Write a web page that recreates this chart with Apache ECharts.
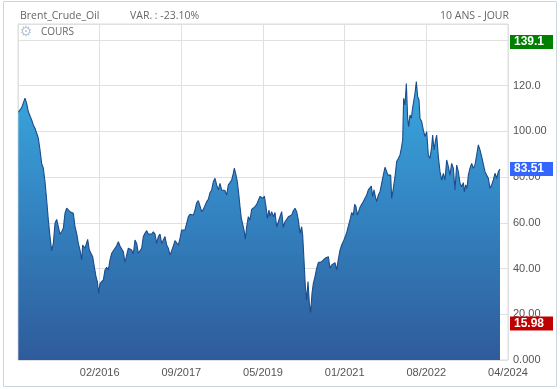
<!DOCTYPE html>
<html>
<head>
<meta charset="utf-8">
<script src="https://cdn.jsdelivr.net/npm/echarts@6/dist/echarts.min.js"></script>
<style>
html,body{margin:0;padding:0;background:#fff;}
#c{width:560px;height:389px;}
</style>
</head>
<body>
<div id="c"></div>
<script>
// time index (session steps from the start of the 10-year window) and Brent price
var t = [1,6,11,16,21,26,31,36,41,46,51,56,61,66,71,76,81,86,91,96,101,106,111,116,121,126,131,136,141,146,151,156,161,166,171,176,181,186,191,194,201,206,209,214,219,224,229,234,238,242,246,251,256,261,266,271,276,281,286,291,296,301,306,311,316,321,326,331,336,341,346,351,356,361,366,371,376,381,386,391,396,401,406,411,416,421,426,431,436,441,446,451,456,461,466,471,476,481,486,
491,496,501,506,511,516,521,526,531,536,541,546,551,556,561,566,571,576,581,586,591,596,601,606,611,616,621,626,631,636,641,646,649,654,658,662,666,670,674,678,682,686,691,696,701,706,711,716,721,726,731,736,739,744,748,753,756,761,766,771,776,781,786,791,796,801,806,811,816,821,826,831,836,841,846,851,854,858,862,866,870,874,878,882,886,891,896,901,906,911,916,921,926,931,936,941,946,951,956,961,
966,971,976,981,986,991,996,1001,1006,1010,1014,1018,1022,1026,1031,1036,1041,1046,1051,1056,1060,1064,1068,1072,1076,1081,1086,1091,1096,1101,1106,1110,1114,1118,1121,1126,1131,1136,1141,1146,1150,1154,1157,1161,1165,1169,1172,1176,1180,1183,1187,1191,1195,1199,1203,1206,1211,1216,1221,1226,1231,1236,1241,1244,1248,1252,1256,1261,1266,1271,1276,1281,1286,1291,1296,1301,1306,1311,1316,1321,1326,1331,1336,1339,1343,1347,1351,1356,1361,1366,1371,1376,1381,1386,1391,1396,1401,1406,1411,1416,1421,1426,1431,1436,1441,1446];
var prices = [108.4,109.1,110.4,109.7,114.5,112.3,108.6,108.2,105,102.8,101.4,99.2,97,91.9,86,83.9,78,70,61.3,54,47.8,51,59.8,61.5,61.3,55.1,56.1,57.6,64.2,66.4,65.6,64.9,64.2,64.2,58.3,55.4,51,48.1,43.75,50.3,48.9,48.9,52.8,48.1,48.4,45.2,40.8,36.5,34.3,29.2,33.5,34.3,35,39.4,40.5,39.4,43.75,46.7,46.4,48.9,50,51.8,49.9,50.75,47.4,42.6,45.9,48.9,49.6,48.1,46.4,52.5,51,46.7,45.9,48.9,54,55.4,56.6,55.1,55.7,55.1,56.1,55.1,51,54,55.1,51,52.5,54,50.3,48.9,45.9,47.8,49.9,52.2,52.8,50.3,53.2,
56.9,57.6,56.9,59.8,62.7,63.7,63.4,63.4,65.6,68.8,69.7,70,64.9,65.9,65.6,69.3,70.3,73.2,74.4,78,79.5,76.6,74.4,77.3,74.4,73.6,74.1,72.2,76.6,77.6,78.75,81.7,83.9,80.9,78,72.9,67.1,62,61.25,56.9,52.9,58.3,62.7,61.25,65.9,65.3,67.1,68.1,68.8,71.5,71.5,70.7,71.75,67.1,62,65.6,62.7,64.9,62.7,64.5,58.3,60.5,61,64.9,58,60.5,61.5,62.7,62.7,63.4,65.3,66.4,64.9,61.25,55.4,58.3,54.7,43.75,32.1,26.25,34.3,24.8,20.7,29.2,33.5,36.5,40.1,42.6,42.3,43,43.75,44.5,45.2,45.2,40.1,41.6,40.8,42.6,39.4,44,
48.1,50.3,51.8,51.3,55.7,56.1,61.25,64.5,63.4,68.1,67.1,63.4,63,66.8,67.4,69.3,68.8,72.2,74.4,75.1,76.1,71.5,74.4,71.5,69.3,72.2,73.6,77.3,80.9,84.3,83.9,80.9,81.7,80.9,70.7,75.1,80.2,86.8,88.2,89.7,92.6,96.25,114.5,111.6,121,105.7,102.1,107.2,105.7,109.4,108.6,116.7,121.8,115.2,113.75,105.7,104.3,100.6,97.7,99.9,89.7,88.2,93.3,98.4,91.9,95.5,98.4,89,82.4,78.75,81.7,78.75,87.5,84.6,80.9,86,83.9,74.4,85.3,82.4,77.3,75.8,77.6,73.6,76.6,75.1,80.9,83.9,86,83.9,85.3,89.7,94.1,91.9,89,88.7,82.4,80.9,79.5,75.1,76.6,78.75,81.7,79.5,82.4,83.51];
var xTickLabels = ['', '02/2016', '09/2017', '05/2019', '01/2021', '08/2022', '04/2024'];
var yTickLabels = ['0.000', '20.00', '40.00', '60.00', '80.00', '100.00', '120.0', '140.0'];
var tagValues = [139.1, 83.51, 15.98];
var title = 'Brent_Crude_Oil';
var variation = 'VAR. : -23.10%';
var period = '10 ANS - JOUR';
var legendName = 'COURS';

var tagColors = ['#008000', '#3366ff', '#c00000'];
var points = t.map(function (x, i) { return [x, prices[i]]; });

var chart = echarts.init(document.getElementById('c'), null, {renderer: 'canvas'});
var FONT = '"Liberation Sans", Arial, sans-serif';
chart.setOption({
  animation: false,
  backgroundColor: '#ffffff',
  grid: {left: 18, right: 52, top: 24, bottom: 29, show: true, borderColor: '#dcdcdc', borderWidth: 1, backgroundColor: '#ffffff'},
  graphic: [
    {type: 'rect', shape: {x: 3.5, y: 1.5, width: 553, height: 385}, style: {fill: 'none', stroke: '#ccd4de', lineWidth: 1}, silent: true, z: -10},
    {type: 'text', x: 20, y: 16, style: {text: title, fill: '#666', font: '10.5px "Open Sans", sans-serif', textVerticalAlign: 'middle'}},
    {type: 'text', x: 130, y: 16, style: {text: variation, fill: '#666', font: '10.5px "Open Sans", sans-serif', textVerticalAlign: 'middle'}},
    {type: 'text', x: 509, y: 16, style: {text: period, fill: '#666', font: '10.5px "Open Sans", sans-serif', textAlign: 'right', textVerticalAlign: 'middle'}},
    {type: 'text', x: 26, y: 32.5, style: {text: '\u2699', fill: '#b8c8da', font: '14px "DejaVu Sans", sans-serif', textAlign: 'center', textVerticalAlign: 'middle'}, z: 10},
    {type: 'text', x: 41, y: 32.5, style: {text: legendName, fill: '#666', font: '10px "Open Sans", sans-serif', textVerticalAlign: 'middle'}, z: 10}
  ],
  xAxis: {
    type: 'value', min: 0, max: 1470, interval: 245,
    axisLine: {show: false}, axisTick: {show: false},
    axisLabel: {
      color: '#555', fontSize: 11, fontFamily: FONT, margin: 7,
      showMinLabel: true, showMaxLabel: true,
      formatter: function (v) { var k = Math.round(v / 245); return (Math.abs(v - k * 245) < 1e-6 && xTickLabels[k] !== undefined) ? xTickLabels[k] : ''; }
    },
    splitLine: {show: true, lineStyle: {color: '#e0e0e0', width: 1}}
  },
  yAxis: {
    type: 'value', position: 'right', min: 0, max: 147, interval: 20,
    axisLine: {show: false}, axisTick: {show: false},
    axisLabel: {
      color: '#555', fontSize: 11, fontFamily: FONT, margin: 5, align: 'left',
      padding: [0, 0, 6, 0],
      formatter: function (v) { var k = Math.round(v / 20); return (Math.abs(v - k * 20) < 1e-6 && yTickLabels[k] !== undefined) ? yTickLabels[k] : ''; }
    },
    splitLine: {show: true, lineStyle: {color: '#e0e0e0', width: 1}}
  },
  series: [{
    type: 'line',
    name: legendName,
    data: points,
    showSymbol: false,
    symbol: 'none',
    sampling: 'none',
    lineStyle: {color: '#1c4c8c', width: 1.1},
    areaStyle: {
      opacity: 1,
      color: new echarts.graphic.LinearGradient(0, 0, 0, 1, [
        {offset: 0, color: '#39a7de'},
        {offset: 0.45, color: '#3385c2'},
        {offset: 1, color: '#2f5b9b'}
      ])
    },
    markLine: {
      silent: true,
      symbol: 'none',
      animation: false,
      lineStyle: {color: 'rgba(0,0,0,0)', width: 1, type: 'solid'},
      data: tagValues.map(function (v, i) {
        return {
          yAxis: v,
          label: {
            show: true, position: 'end', distance: 2,
            formatter: String(v),
            color: '#fff', fontWeight: 'bold', fontSize: 12, fontFamily: FONT,
            backgroundColor: tagColors[i],
            padding: [2, 4, 1, 4], width: 35, lineHeight: 11, align: 'left', verticalAlign: 'middle'
          }
        };
      })
    }
  }]
});
</script>
</body>
</html>
